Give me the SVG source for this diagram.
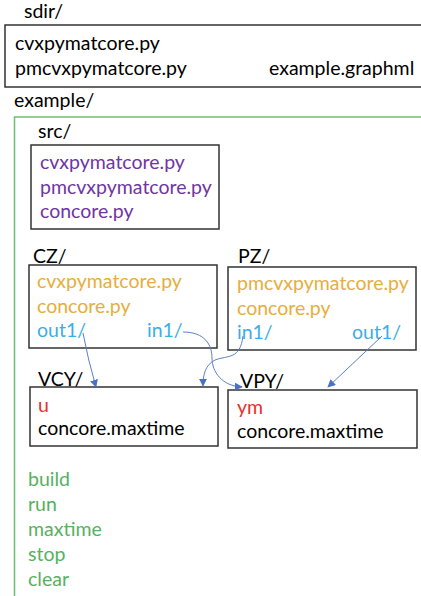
<svg xmlns="http://www.w3.org/2000/svg" width="421" height="596" viewBox="0 0 421 596">
<style>
text{font-family:Lato,"Liberation Sans",sans-serif;font-size:19.5px;fill:#000}
.box{fill:#fff;stroke:#333;stroke-width:1.5}
.pur{fill:#7035A2}
.org{fill:#E6AE3C}
.blu{fill:#3AAEE8}
.red{fill:#E8302A}
.grn{fill:#55B25E}
.con{fill:none;stroke:#5A7FC8;stroke-width:1;marker-end:url(#ah)}
</style>
<defs>
<marker id="ah" viewBox="0 0 10 10" refX="9" refY="5" markerWidth="8" markerHeight="8" orient="auto" markerUnits="userSpaceOnUse">
<path d="M0,0 L10,5 L0,10 z" fill="#4A72C4"/>
</marker>
</defs>
<rect width="421" height="596" fill="#fff"/>
<g id="sdir">
<text x="24" y="18">sdir/</text>
<rect class="box" x="5" y="25" width="425" height="62"/>
<text x="15" y="50">cvxpymatcore.py</text>
<text x="15" y="75">pmcvxpymatcore.py</text>
<text x="269" y="75">example.graphml</text>
</g>
<g id="example">
<text x="14" y="107">example/</text>
<rect x="14.5" y="117" width="420" height="500" fill="none" stroke="#6CC070" stroke-width="1.5"/>
</g>
<g id="src">
<text x="38" y="138">src/</text>
<rect class="box" x="31" y="145" width="188" height="84"/>
<text class="pur" x="40" y="169">cvxpymatcore.py</text>
<text class="pur" x="40" y="194">pmcvxpymatcore.py</text>
<text class="pur" x="40" y="218">concore.py</text>
</g>
<g id="CZ">
<text x="33" y="263">CZ/</text>
<rect class="box" x="29" y="265" width="188" height="83"/>
<text class="org" x="37" y="288">cvxpymatcore.py</text>
<text class="org" x="37" y="313">concore.py</text>
<text class="blu" x="37" y="337">out1/</text>
<text class="blu" x="147" y="337">in1/</text>
</g>
<g id="PZ">
<text x="238" y="263">PZ/</text>
<rect class="box" x="228" y="267" width="188" height="83"/>
<text class="org" x="237" y="290">pmcvxpymatcore.py</text>
<text class="org" x="237" y="315">concore.py</text>
<text class="blu" x="237" y="339">in1/</text>
<text class="blu" x="352" y="339">out1/</text>
</g>
<g id="VCY">
<text x="38" y="386">VCY/</text>
<rect class="box" x="30" y="387" width="188" height="59"/>
<text class="red" x="38" y="412">u</text>
<text x="38" y="435">concore.maxtime</text>
</g>
<g id="VPY">
<text x="240" y="388">VPY/</text>
<rect class="box" x="228" y="390" width="189" height="58"/>
<text class="red" x="237" y="414">ym</text>
<text x="237" y="438">concore.maxtime</text>
</g>
<g id="commands">
<text class="grn" x="28" y="486">build</text>
<text class="grn" x="28" y="511">run</text>
<text class="grn" x="28" y="536">maxtime</text>
<text class="grn" x="28" y="561">stop</text>
<text class="grn" x="28" y="586">clear</text>
</g>
<g id="connectors">
<path class="con" d="M83,333 Q88,360 96,387"/>
<path class="con" d="M183,332 C205,332 212,345 212,358 C212,372 222,386 242,387"/>
<path class="con" d="M243,336 C240,360 228,355 215,360 C205,365 203,375 203,386"/>
<path class="con" d="M382,336 L328,387"/>
</g>
</svg>
